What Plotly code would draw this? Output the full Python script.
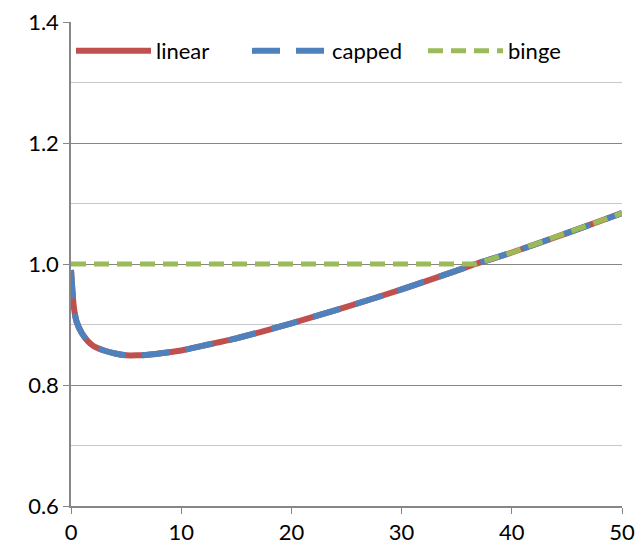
import plotly.graph_objects as go

x_vals = [0, 0.25, 0.5, 1, 1.5, 2, 3, 4, 5, 6, 7, 8, 10, 12, 15, 20, 25, 30, 35, 36.7, 40, 45, 50]
linear = [0.99, 0.93, 0.905, 0.885, 0.873, 0.865, 0.857, 0.852, 0.849, 0.849, 0.850, 0.852,
          0.857, 0.865, 0.877, 0.902, 0.929, 0.958, 0.989, 1.0, 1.019, 1.051, 1.084]
capped = [0.99, 0.93, 0.905, 0.885, 0.873, 0.865, 0.857, 0.852, 0.849, 0.849, 0.850, 0.852,
          0.857, 0.865, 0.877, 0.902, 0.929, 0.958, 0.989, 1.0, 1.019, 1.051, 1.084]
binge = [1.0, 1.0, 1.0, 1.0, 1.0, 1.0, 1.0, 1.0, 1.0, 1.0, 1.0, 1.0,
         1.0, 1.0, 1.0, 1.0, 1.0, 1.0, 1.0, 1.0, 1.019, 1.051, 1.084]
y_ticks = [0.6, 0.8, 1.0, 1.2, 1.4]

fig = go.Figure()
fig.add_trace(go.Scatter(x=x_vals, y=linear, name="linear", mode="lines",
                         line=dict(color="#C0504D", width=6, shape="spline", smoothing=0.6)))
fig.add_trace(go.Scatter(x=x_vals, y=capped, name="capped", mode="lines",
                         line=dict(color="#4F81BD", width=6, dash="28px,16px", shape="spline", smoothing=0.6)))
fig.add_trace(go.Scatter(x=x_vals, y=binge, name="binge", mode="lines",
                         line=dict(color="#9BBB59", width=5, dash="15px,8px")))

fig.update_layout(
    width=644,
    height=550,
    margin=dict(l=63, r=30, t=14, b=52, autoexpand=False),
    plot_bgcolor="white",
    paper_bgcolor="white",
    font=dict(family="Lato, Carlito, Liberation Sans, sans-serif", size=22, color="#000000"),
    showlegend=True,
    legend=dict(orientation="h", x=0, y=0.94, xanchor="left", yanchor="middle",
                bgcolor="rgba(0,0,0,0)", itemwidth=75, entrywidth=86, font=dict(size=22),
                traceorder="normal"),
)
fig.update_xaxes(range=[0, 50], dtick=10, showgrid=False, zeroline=False, automargin=False,
                 showline=True, linecolor="#868686", linewidth=1.5,
                 ticks="outside", ticklen=6, tickcolor="#868686")
fig.update_yaxes(range=[0.6, 1.4], tickvals=y_ticks, tickformat=".1f", zeroline=False, automargin=False,
                 ticklabeloverflow="allow",
                 showgrid=True, gridcolor="#868686", gridwidth=1.2,
                 showline=True, linecolor="#868686", linewidth=1.5,
                 ticks="outside", ticklen=6, tickcolor="#868686",
                 minor=dict(dtick=0.1, showgrid=True, gridcolor="#C8C8C8", gridwidth=1.2))

fig.write_html("out.html")
